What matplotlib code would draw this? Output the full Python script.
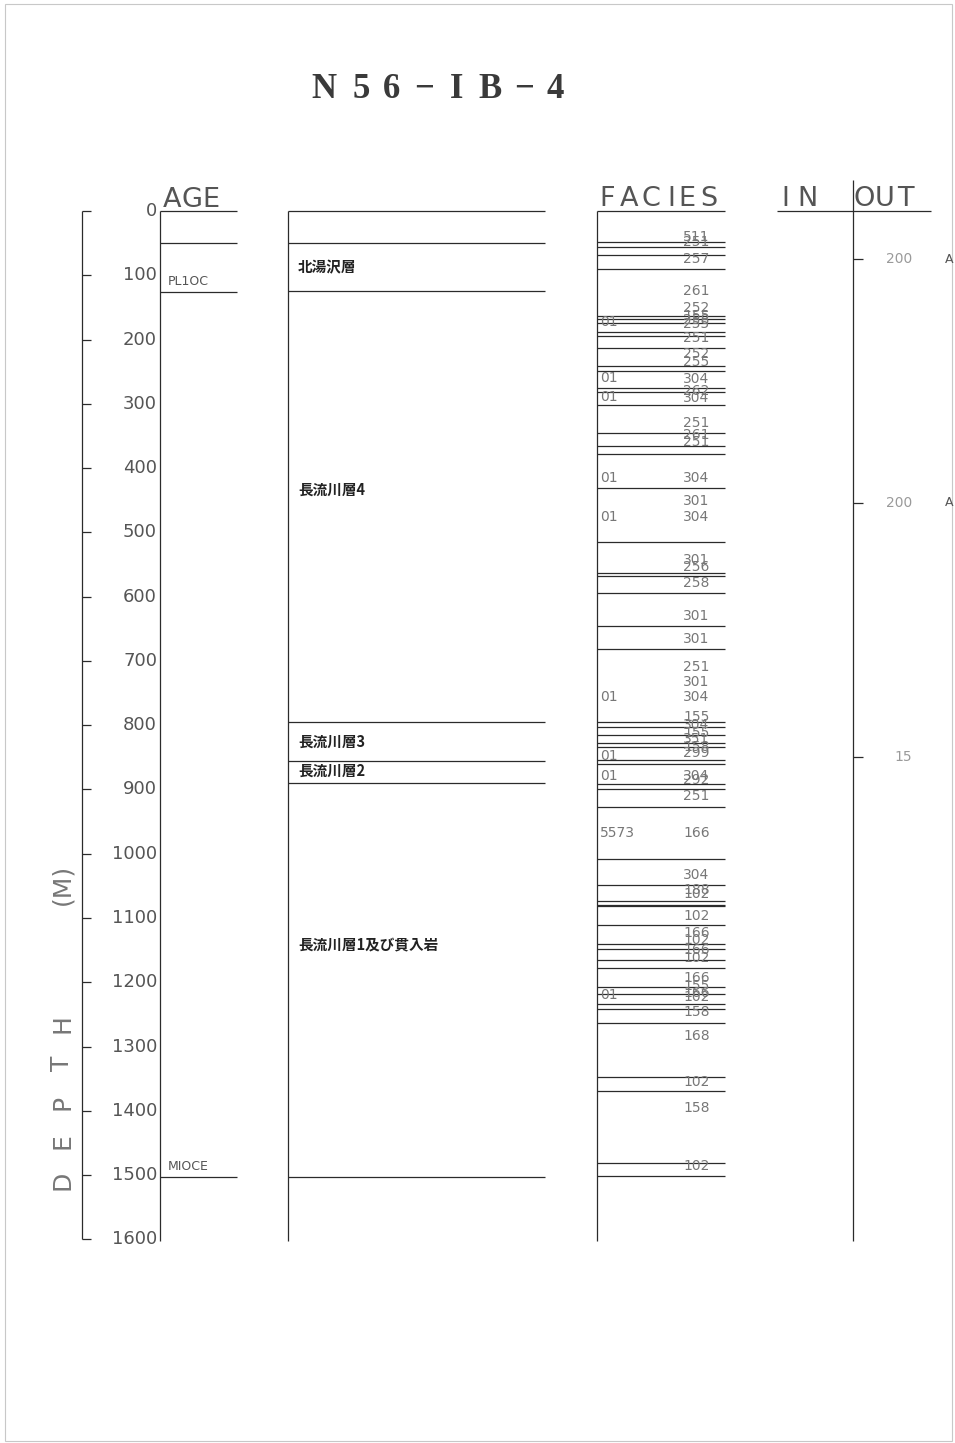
import matplotlib
matplotlib.use('Agg')
import matplotlib.pyplot as plt
from matplotlib.patches import Rectangle

# ---------------- data ----------------
depth_ticks = [0, 100, 200, 300, 400, 500, 600, 700, 800, 900, 1000,
               1100, 1200, 1300, 1400, 1500, 1600]
depth_max = 1602

age_bounds = [0, 50, 126, 1503]
age_labels = ['PL1OC', 'MIOCE']
age_label_depths = [110, 1487]

formation_bounds = [0, 50, 125, 795, 855, 890, 1503]
formation_names = ['北湯沢層', '長流川層4', '長流川層3', '長流川層2', '長流川層1及び貫入岩']
formation_name_depths = [88, 434, 826, 871, 1142]

facies_bounds = [0, 49, 56, 68, 91, 163, 168, 175, 189, 195, 213, 241, 249, 275,
                 281, 302, 345, 366, 378, 431, 515, 563, 568, 594, 646, 681,
                 795, 803, 815, 827, 834, 854, 860, 891, 900, 928, 1009, 1049,
                 1073, 1080, 1082, 1111, 1141, 1148, 1165, 1178, 1207, 1218,
                 1234, 1241, 1263, 1347, 1370, 1482, 1501]
facies_codes = ['511', '251', '257', '261', '252', '155', '258', '255', '251', '252',
                '255', '304', '262', '304', '251', '261', '251', '304', '301', '304',
                '301', '256', '258', '301', '301', '251', '301', '304', '155', '304',
                '155', '351', '158', '299', '304', '292', '251', '166', '304', '188',
                '102', '102', '166', '102', '166', '102', '166', '155', '166', '102',
                '158', '168', '102', '158', '102']
facies_code_depths = [40, 49, 75, 124, 151, 164, 170, 176, 197, 222,
                      235, 261, 280, 291, 330, 348, 359, 415, 451, 476,
                      543, 554, 579, 630, 666, 709, 733, 756, 787, 800,
                      812, 822, 834, 844, 879, 885, 911, 968, 1033, 1057,
                      1063, 1097, 1123, 1134, 1150, 1162, 1193, 1206, 1217, 1223,
                      1247, 1284, 1355, 1396, 1486]
sub_codes = ['01', '01', '01', '01', '01', '01', '01', '01', '5573', '01']
sub_code_depths = [173, 260, 289, 415, 476, 756, 848, 879, 968, 1220]

out_values = ['200', '200', '15']
out_depths = [75, 454, 849]
out_flags = ['A', 'A', '']

# ---------------- layout ----------------
W, H = 955, 1443
Y0, PXM = 211.0, 0.6427           # pixel of depth 0, pixels per metre


def dp(y):
    """pixel row -> depth coordinate"""
    return (y - Y0) / PXM


LINE = '#2b2b2b'
GRAY = '#555555'
LIGHT = '#8a8a8a'
LW = 0.9

fig = plt.figure(figsize=(W / 100, H / 100), dpi=100)
ax = fig.add_axes([0, 0, 1, 1])
ax.set_xlim(0, W)
ax.set_ylim(dp(H), dp(0))
ax.axis('off')

# page frame of the scan
ax.add_patch(Rectangle((5, dp(4)), 947, dp(1441) - dp(4), fill=False,
                       ec='#c8c8c8', lw=0.8))


def spaced(chars, centers, y, size, color, **kw):
    for c, x in zip(chars, centers):
        ax.text(x, y, c, ha='center', va='baseline', fontsize=size, color=color, **kw)


# title
spaced('N56−IB−4', [324, 361, 391, 424, 457, 490, 524, 555], dp(98), 25, '#3a3a3a',
       family='Liberation Serif', fontweight='bold')

# headers
spaced('AGE', [172.5, 192, 210.5], dp(207), 19.5, GRAY)
spaced('FACIES', [607.5, 629, 651, 671, 687, 708.5], dp(206), 19.5, GRAY)
spaced('IN', [785.5, 807.5], dp(206), 19.5, GRAY)
spaced('OUT', [864, 884.5, 905.5], dp(206), 19.5, GRAY)

# depth axis
ax.vlines(82, 0, 1600, color=LINE, lw=LW)
ax.hlines(depth_ticks, 82, 91, color=LINE, lw=LW)
for d in depth_ticks:
    ax.text(157, d, f'{d}', ha='right', va='center', fontsize=13, color=GRAY)

depth_letters = ['D', 'E', 'P', 'T', 'H', '(M)']
depth_letter_y = [1180, 1141, 1102, 1063, 1024, 884]
for c, y in zip(depth_letters, depth_letter_y):
    ax.text(62, dp(y), c, rotation=90, ha='center', va='center',
            fontsize=18, color='#777777')

# AGE column
ax.vlines(160, 0, depth_max, color=LINE, lw=LW)
ax.hlines(age_bounds, 160, 237, color=LINE, lw=LW)
for lab, d in zip(age_labels, age_label_depths):
    ax.text(168, d, lab, ha='left', va='center', fontsize=9, color=GRAY)

# formation column
ax.vlines(288, 0, depth_max, color=LINE, lw=LW)
ax.hlines(formation_bounds, 288, 545, color=LINE, lw=LW)
for name, d in zip(formation_names, formation_name_depths):
    ax.text(298, d, name, ha='left', va='center', fontsize=10.5, color='#222222',
            family=['Noto Sans CJK JP', 'DejaVu Sans'], fontweight='bold')

# FACIES column
ax.vlines(597, 0, depth_max, color=LINE, lw=LW)
ax.hlines(facies_bounds, 597, 725, color=LINE, lw=LW)
for code, d in zip(facies_codes, facies_code_depths):
    ax.text(683, d, code, ha='left', va='center', fontsize=10, color='#777777')
for code, d in zip(sub_codes, sub_code_depths):
    ax.text(600, d, code, ha='left', va='center', fontsize=10, color='#777777')

# IN / OUT column
ax.hlines(0, 777, 931, color=LINE, lw=LW)
ax.vlines(853, dp(180), depth_max, color=LINE, lw=LW)
ax.hlines(out_depths, 853, 863, color=LINE, lw=LW)
for v, f, d in zip(out_values, out_flags, out_depths):
    ax.text(912, d, v, ha='right', va='center', fontsize=10, color='#9a9a9a')
    if f:
        ax.text(945, d, f, ha='left', va='center', fontsize=9, color=GRAY)

fig.savefig('out.png', dpi=100, facecolor='white')
